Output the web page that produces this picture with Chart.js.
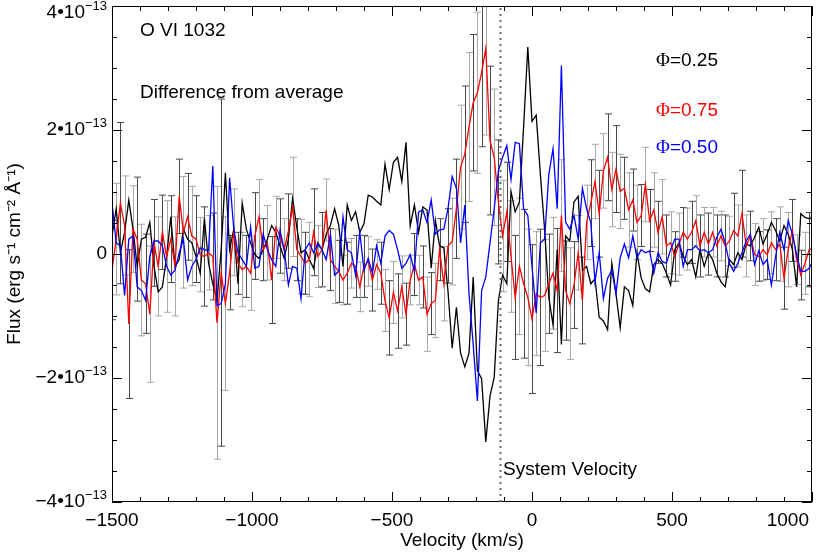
<!DOCTYPE html>
<html>
<head>
<meta charset="utf-8">
<script src="https://cdn.jsdelivr.net/npm/chart.js@4.4.0/dist/chart.umd.min.js"></script>
<style>
body { margin: 0; background: #fff; }
#wrap { width: 831px; height: 553px; }
</style>
</head>
<body>
<div id="wrap"><canvas id="grafico" width="831" height="553"></canvas></div>
<script>
// Velocity grid (km/s)
const velocidad = [
	-1500, -1485, -1470, -1455, -1440, -1425, -1410, -1395, -1380, -1365,
	-1350, -1335, -1320, -1305, -1290, -1275, -1260, -1245, -1230, -1215,
	-1200, -1185, -1170, -1155, -1140, -1125, -1110, -1095, -1080, -1065,
	-1050, -1035, -1020, -1005, -990, -975, -960, -945, -930, -915,
	-900, -885, -870, -855, -840, -825, -810, -795, -780, -765,
	-750, -735, -720, -705, -690, -675, -660, -645, -630, -615,
	-600, -585, -570, -555, -540, -525, -510, -495, -480, -465,
	-450, -435, -420, -405, -390, -375, -360, -345, -330, -315,
	-300, -285, -270, -255, -240, -225, -210, -195, -180, -165,
	-150, -135, -120, -105, -90, -75, -60, -45, -30, -15,
	0, 15, 30, 45, 60, 75, 90, 105, 120, 135,
	150, 165, 180, 195, 210, 225, 240, 255, 270, 285,
	300, 315, 330, 345, 360, 375, 390, 405, 420, 435,
	450, 465, 480, 495, 510, 525, 540, 555, 570, 585,
	600, 615, 630, 645, 660, 675, 690, 705, 720, 735,
	750, 765, 780, 795, 810, 825, 840, 855, 870, 885,
	900, 915, 930, 945, 960, 975, 990, 1005,
];

// Flux difference from average, in units of 1e-14 erg s-1 cm-2 A-1
// Phi = 0.25 (black)
const fase025 = [
	2.9, 7.3, 0.2, 3.5, 8.7, 4.0, -2.0, 2.4, 2.7, 5.1,
	-2.0, -6.1, -5.3, -0.4, 6.0, -2.0, -0.9, 4.0, 2.4, 1.8,
	-0.4, -3.1, 5.7, -1.5, -4.8, -7.5, 0.7, 13.1, 0.7, 4.0,
	-4.8, 8.2, 4.0, 1.8, -0.1, -0.7, 0.7, 2.4, 4.6, 3.5,
	1.3, -0.7, 2.4, 9.0, 4.3, 0.2, 0.7, -0.9, -2.3, 1.8,
	0.7, 3.2, 4.6, 7.3, 4.6, -2.0, 7.9, 5.4, 6.8, 3.5,
	4.9, 9.5, 9.2, 8.5, 7.9, 14.5, 10.4, 14.8, 15.6, 11.7,
	18.0, 4.5, 7.9, 3.5, 7.6, 7.1, -2.3, 5.4, 1.3, 1.0,
	-6.0, -15.2, -8.6, -16.0, -18.2, -16.0, -3.7, -18.8, -20.1, -30.3,
	-22.9, -19.9, -7.5, -3.4, -4.8, 10.1, 6.8, 8.4, 20.5, 33.4,
	21.4, 22.4, 12.8, 4.0, -7.0, -11.4, 0.7, -14.6, 2.9, 2.1,
	8.4, 9.3, -2.6, -2.0, -4.8, -4.0, -10.2, -10.8, -12.2, -1.5,
	-6.4, -11.9, -5.3, -5.9, -8.3, 0.2, -3.9, -5.6, -6.1, -1.7,
	-0.9, -1.5, -3.1, -5.0, 0.7, 1.8, -0.4, -1.7, -0.9, -3.7,
	0.7, -2.0, 0.2, -0.9, -3.1, -4.5, -5.3, -0.9, -1.7, 0.2,
	-0.9, 1.6, 1.3, 2.7, 4.3, 1.6, 3.2, 5.1, 3.8, 2.1,
	4.6, 3.2, 0.7, -5.3, 6.5, 5.9, 5.7, 5.9,
];

// Phi = 0.75 (red)
const fase075 = [
	-2.6, 2.4, 8.2, 4.6, -11.3, 4.0, 2.4, -4.2, -4.8, -9.7,
	1.8, -2.0, 3.5, -0.4, 2.4, -2.0, 9.3, 3.5, 6.0, 2.9,
	2.4, -0.1, -0.4, 0.2, -0.4, -11.1, -3.0, -8.0, -3.0, 3.5,
	-1.5, -2.5, -2.0, -3.1, 2.9, 6.0, 0.7, 1.8, -4.2, 4.3,
	2.9, 0.7, 3.7, 7.6, 0.7, -0.4, -1.5, -0.9, 3.5, -0.4,
	0.7, 7.1, -0.9, -2.0, -2.8, -4.2, -3.1, -1.5, -2.0, -5.3,
	-2.0, -1.2, -4.2, -1.7, -3.1, -7.5, -10.3, -6.2, -9.2, -5.3,
	-9.7, -4.2, -1.7, -4.2, -3.7, -9.7, -8.0, -7.5, 0.7, -4.8,
	1.3, 2.0, 7.3, 14.0, 16.1, 20.5, 24.4, 26.0, 29.3, 33.2,
	18.3, 15.6, 8.4, 2.9, 6.8, -0.4, -7.0, -2.0, -4.8, -7.0,
	-10.5, -6.4, -7.0, -6.7, -4.8, -3.1, -5.9, 6.2, -5.9, -8.0,
	-5.0, 0.2, -7.5, 5.1, 8.2, 11.7, 6.5, 13.4, 15.6, 10.4,
	13.7, 10.1, 10.6, 7.1, 8.7, 5.1, 6.2, 11.2, 5.4, 7.1,
	3.5, 6.0, 1.3, 1.8, -0.4, 1.6, 3.5, 2.4, 3.5, 5.4,
	1.3, 3.5, 1.6, 3.5, 1.3, 2.9, 1.3, 2.1, 3.8, 2.9,
	6.5, 1.3, 2.9, -0.1, -0.4, 0.7, -0.1, 1.8, 0.7, 1.6,
	-3.9, 0.7, 3.8, -0.9, -3.4, -1.5, 0.7, 1.0,
];

// Phi = 0.50 (blue)
const fase050 = [
	8.2, 1.8, 1.3, -6.7, 2.4, 2.9, -5.3, -5.9, -7.5, -0.4,
	2.1, 2.1, 1.3, -2.0, -3.4, -2.6, 0.2, 2.4, -4.2, -2.0,
	-0.9, 1.0, 0.7, 0.5, 14.2, -8.3, -8.0, -4.8, 12.3, 4.0,
	0.2, -0.9, -2.0, 4.3, -2.3, -2.0, 3.2, 0.7, -0.9, -2.0,
	3.8, 0.7, -5.0, -2.0, -2.3, -7.2, 0.7, 1.8, 0.2, 1.6,
	0.7, -0.9, 3.2, -3.4, -2.8, 6.0, 0.7, 0.2, -3.4, 3.5,
	-2.6, -0.7, -3.1, 1.3, -1.5, 2.9, 3.8, 3.2, 0.7, -2.3,
	-1.5, -0.1, -2.8, 6.8, 7.1, 5.1, 8.7, 3.2, 3.9, 4.0,
	7.3, 12.5, 10.6, 1.8, 7.9, -6.4, -14.6, -23.7, -5.9, -3.7,
	1.8, 7.3, 13.4, 15.6, 17.5, 12.0, 18.0, 17.8, 7.3, 6.2,
	-2.0, -9.5, 1.8, 2.4, 12.8, 17.0, 7.3, 30.4, 5.1, 4.0,
	6.2, 2.4, 10.6, 7.3, 5.1, -4.5, 0.2, -7.2, -3.9, -2.6,
	-6.4, -0.6, 1.6, -0.6, 2.9, -0.6, 0.7, 0.2, 0.5, -3.1,
	0.2, -1.2, -1.5, 0.7, 2.4, 2.4, -2.0, 0.7, 0.7, 1.3,
	0.5, 0.7, 0.2, 0.7, 2.7, 4.0, 1.8, -1.5, -2.8, -1.5,
	0.2, 2.1, 3.2, -1.7, 0.5, -1.7, -0.9, -5.0, -0.4, 3.5,
	0.7, 5.4, 3.2, -0.1, -2.8, -2.8, -2.3, -0.9,
];

// 1-sigma errors of the Phi = 0.75 curve (same units)
const error075 = [
	8, 9, 13, 8, 12, 7, 10, 9, 8, 11,
	7, 8, 6, 9, 7, 8, 6, 9, 7, 8,
	7, 6, 8, 6, 7, 22, 28, 14, 6, 7,
	5, 6, 5, 6, 7, 6, 5, 6, 7, 5,
	6, 5, 6, 8, 5, 6, 5, 6, 7, 5,
	6, 5, 5, 6, 5, 4, 5, 4, 5, 4,
	5, 4, 5, 4, 5, 5, 6, 5, 6, 5,
	5, 4, 5, 4, 5, 6, 5, 6, 5, 6,
	6, 7, 8, 10, 11, 12, 11, 13, 12, 14,
	12, 11, 10, 9, 8, 9, 10, 11, 12, 11,
	12, 10, 11, 9, 8, 9, 10, 9, 8, 9,
	7, 6, 7, 6, 7, 6, 7, 6, 7, 6,
	7, 6, 5, 6, 5, 6, 5, 6, 5, 6,
	5, 6, 5, 5, 4, 5, 4, 5, 5, 4,
	5, 4, 5, 4, 5, 4, 5, 4, 6, 5,
	7, 5, 4, 5, 4, 5, 4, 5, 5, 6,
	5, 6, 5, 4, 4, 5, 6, 5,
];

const ticksX = [-1500, -1000, -500, 0, 500, 1000];
const ticksY = [-40, -20, 0, 20, 40];
const velSistema = -115;

const SANS = '"Liberation Sans", Arial, sans-serif';
const MENOS = '\u2212';

function serie(valores) {
	return velocidad.map((v, i) => ({ x: v, y: valores[i] }));
}

// error bars of the red curve, drawn under the lines
function barrasError(chart) {
	const { ctx, chartArea: a, scales: { x, y } } = chart;
	ctx.save();
	ctx.beginPath();
	ctx.rect(a.left, a.top, a.right - a.left, a.bottom - a.top);
	ctx.clip();
	ctx.lineWidth = 1;
	velocidad.forEach((v, i) => {
		const px = Math.round(x.getPixelForValue(v)) + 0.5;
		const y1 = y.getPixelForValue(fase075[i] + error075[i]);
		const y2 = y.getPixelForValue(fase075[i] - error075[i]);
		ctx.strokeStyle = i % 2 ? '#a8a8a8' : '#484848';
		ctx.beginPath();
		ctx.moveTo(px, y1); ctx.lineTo(px, y2);
		ctx.moveTo(px - 3.5, y1); ctx.lineTo(px + 3.5, y1);
		ctx.moveTo(px - 3.5, y2); ctx.lineTo(px + 3.5, y2);
		ctx.stroke();
	});
	ctx.restore();
}

// frame, inward ticks, tick labels, system velocity line and texts
function marcoYTextos(chart) {
	const { ctx, chartArea: a, scales: { x, y } } = chart;
	ctx.save();
	ctx.strokeStyle = '#000';
	ctx.lineWidth = 1;
	ctx.strokeRect(a.left + 0.5, a.top + 0.5, a.right - a.left - 1, a.bottom - a.top - 1);
	ctx.beginPath();
	for (let v = -1500; v <= 1000; v += 100) {
		const px = Math.round(x.getPixelForValue(v)) + 0.5;
		const largo = v % 500 === 0 ? 10 : 5;
		ctx.moveTo(px, a.bottom); ctx.lineTo(px, a.bottom - largo);
		ctx.moveTo(px, a.top); ctx.lineTo(px, a.top + largo);
	}
	for (let v = -40; v <= 40; v += 5) {
		const py = Math.round(y.getPixelForValue(v)) + 0.5;
		const largo = v % 20 === 0 ? 10 : 5;
		ctx.moveTo(a.left, py); ctx.lineTo(a.left + largo, py);
		ctx.moveTo(a.right, py); ctx.lineTo(a.right - largo, py);
	}
	ctx.stroke();

	// tick labels
	ctx.fillStyle = '#000';
	ctx.textBaseline = 'middle';
	ctx.font = '19px ' + SANS;
	ctx.textAlign = 'center';
	ticksX.forEach((v) => {
		const t = v < 0 ? MENOS + Math.abs(v) : String(v);
		const w = ctx.measureText(t).width;
		let px = x.getPixelForValue(v);
		if (px + w / 2 > 809) px = 809 - w / 2;
		ctx.fillText(t, px, a.bottom + 19);
	});
	ctx.textAlign = 'left';
	ticksY.forEach((v) => {
		const py = Math.max(y.getPixelForValue(v), 13);
		const derecha = a.left - 5;
		if (v === 0) {
			ctx.font = '19px ' + SANS;
			const w = ctx.measureText('0').width;
			ctx.fillText('0', derecha - w, py);
			return;
		}
		const base = (v < 0 ? MENOS : '') + Math.abs(v) / 10 + '\u202210';
		const expo = MENOS + '13';
		ctx.font = '13px ' + SANS;
		const we = ctx.measureText(expo).width;
		ctx.font = '19px ' + SANS;
		const wb = ctx.measureText(base).width;
		ctx.fillText(base, derecha - we - wb, py);
		ctx.font = '13px ' + SANS;
		ctx.fillText(expo, derecha - we, py - 7);
	});

	// system velocity
	const sx = Math.round(x.getPixelForValue(velSistema)) + 0.5;
	ctx.strokeStyle = '#666';
	ctx.lineWidth = 2;
	ctx.setLineDash([2, 4]);
	ctx.beginPath();
	ctx.moveTo(sx, a.top + 2); ctx.lineTo(sx, a.bottom);
	ctx.stroke();
	ctx.setLineDash([]);

	ctx.font = '19px ' + SANS;
	ctx.fillStyle = '#000';
	ctx.textAlign = 'left';
	ctx.fillText('O VI 1032', 140, 31);
	ctx.fillText('Difference from average', 140, 93);
	ctx.fillText('System Velocity', 503, 470);

	const leyenda = [['=0.25', '#000000', 61], ['=0.75', '#ff0000', 111], ['=0.50', '#0000ff', 148]];
	leyenda.forEach(([t, c, py]) => {
		ctx.fillStyle = c;
		ctx.font = '19px "Liberation Serif", "Times New Roman", serif';
		ctx.fillText('\u03A6', 656, py);
		const w = ctx.measureText('\u03A6').width;
		ctx.font = '19px ' + SANS;
		ctx.fillText(t, 656 + w, py);
	});
	ctx.restore();
}

const extras = {
	id: 'extras',
	beforeDatasetsDraw: barrasError,
	afterDraw: marcoYTextos,
};

const fuente = { family: SANS, size: 19 };
const ctx = document.getElementById('grafico').getContext('2d');
const grafico = new Chart(ctx, {
	type: 'line',
	data: {
		datasets: [
			{ label: '\u03A6=0.50', data: serie(fase050), borderColor: '#0000ff', order: 1 },
			{ label: '\u03A6=0.75', data: serie(fase075), borderColor: '#ff0000', order: 2 },
			{ label: '\u03A6=0.25', data: serie(fase025), borderColor: '#000000', order: 3 },
		],
	},
	options: {
		responsive: false,
		animation: false,
		devicePixelRatio: 1,
		layout: { padding: { top: 6, right: 19, left: 0, bottom: 0 } },
		elements: {
			line: { borderWidth: 1.3, tension: 0, fill: false },
			point: { radius: 0 },
		},
		plugins: { legend: { display: false }, tooltip: { enabled: false } },
		scales: {
			x: {
				type: 'linear',
				min: -1500,
				max: 1000,
				grid: { display: false, drawTicks: false },
				border: { display: false },
				afterBuildTicks: (s) => { s.ticks = ticksX.map((v) => ({ value: v })); },
				ticks: { display: false },
				title: { display: true, text: 'Velocity (km/s)', font: fuente, color: '#000', padding: { top: 0, bottom: 1 } },
				afterFit: (s) => { s.height = 51; s.paddingLeft = 0; s.paddingRight = 0; },
			},
			y: {
				min: -40,
				max: 40,
				grid: { display: false, drawTicks: false },
				border: { display: false },
				afterBuildTicks: (s) => { s.ticks = ticksY.map((v) => ({ value: v })); },
				ticks: { display: false },
				title: {
					display: true,
					text: 'Flux (erg s\u207B\u00B9 cm\u207B\u00B2 \u00C5\u207B\u00B9)',
					font: fuente,
					color: '#000',
					padding: { top: 3, bottom: 0 },
				},
				afterFit: (s) => { s.width = 112; s.paddingTop = 0; s.paddingBottom = 0; },
			},
		},
	},
	plugins: [extras],
});
</script>
</body>
</html>
